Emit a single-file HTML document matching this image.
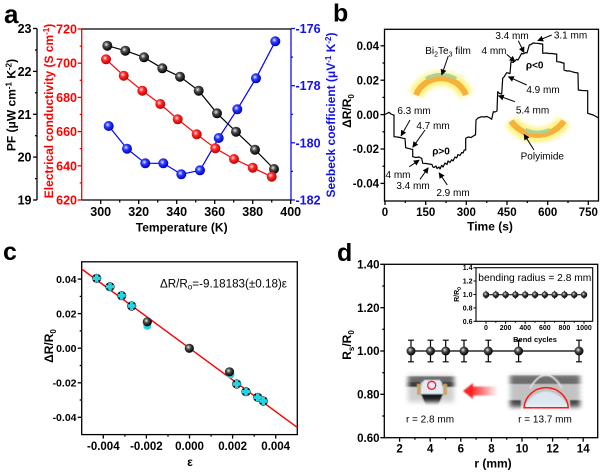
<!DOCTYPE html>
<html><head><meta charset="utf-8"><style>html,body{margin:0;padding:0;background:#fff}svg{display:block}</style></head>
<body>
<svg width="600" height="472" viewBox="0 0 600 472" xmlns="http://www.w3.org/2000/svg" font-family="'Liberation Sans', Arial, sans-serif">
<defs>
<radialGradient id="gk" cx="0.4" cy="0.38" r="0.62"><stop offset="0" stop-color="#eeeeee"/><stop offset="0.4" stop-color="#4a4a4a"/><stop offset="1" stop-color="#000"/></radialGradient>
<radialGradient id="gr" cx="0.4" cy="0.38" r="0.62"><stop offset="0" stop-color="#ffe4e4"/><stop offset="0.4" stop-color="#ff2a2a"/><stop offset="1" stop-color="#c00000"/></radialGradient>
<radialGradient id="gb" cx="0.4" cy="0.38" r="0.62"><stop offset="0" stop-color="#e4e8ff"/><stop offset="0.4" stop-color="#2a3aff"/><stop offset="1" stop-color="#0000b8"/></radialGradient>
<marker id="ah" markerWidth="6" markerHeight="6" refX="5.5" refY="3" orient="auto" markerUnits="userSpaceOnUse"><path d="M0,0 L6,3 L0,6 z" fill="#000"/></marker>
<filter id="glow" x="-30%" y="-60%" width="160%" height="220%"><feGaussianBlur stdDeviation="2.2"/></filter>
<filter id="bl"><feGaussianBlur stdDeviation="0.6"/></filter>
<filter id="fb" x="-30%" y="-50%" width="160%" height="200%"><feGaussianBlur stdDeviation="2.5"/></filter>
<filter id="ab" x="-20%" y="-50%" width="140%" height="200%"><feGaussianBlur stdDeviation="0.8"/></filter>
<mask id="m1" maskUnits="userSpaceOnUse" x="395" y="362" width="72" height="52"><rect x="408" y="374" width="46" height="28" fill="#fff" filter="url(#fb)"/></mask>
<mask id="m2" maskUnits="userSpaceOnUse" x="497" y="362" width="96" height="57"><rect x="510" y="374" width="70" height="33" fill="#fff" filter="url(#fb)"/></mask>
<linearGradient id="ra" x1="0" x2="1" y1="0" y2="0"><stop offset="0" stop-color="#ff2020" stop-opacity="1"/><stop offset="1" stop-color="#ff2020" stop-opacity="0"/></linearGradient>
</defs>
<rect width="600" height="472" fill="#fff"/>

<!-- ================= PANEL A ================= -->
<text x="4" y="23" font-size="26" font-weight="bold">a</text>
<g stroke="#000" stroke-width="1.3">
<line x1="37" y1="28.5" x2="37" y2="200"/>
<line x1="33" y1="28.5" x2="37" y2="28.5"/><line x1="33" y1="71.4" x2="37" y2="71.4"/><line x1="33" y1="114.3" x2="37" y2="114.3"/><line x1="33" y1="157.1" x2="37" y2="157.1"/><line x1="33" y1="200" x2="37" y2="200"/>
<line x1="35" y1="50" x2="37" y2="50"/><line x1="35" y1="92.8" x2="37" y2="92.8"/><line x1="35" y1="135.7" x2="37" y2="135.7"/><line x1="35" y1="178.6" x2="37" y2="178.6"/>
</g>
<g font-size="12.5" font-weight="bold" text-anchor="end">
<text x="31.5" y="33">23</text><text x="31.5" y="75.9">22</text><text x="31.5" y="118.8">21</text><text x="31.5" y="161.6">20</text><text x="31.5" y="204.5">19</text>
</g>
<text transform="translate(15.5,105) rotate(-90)" text-anchor="middle" font-size="12" font-weight="bold">PF (μW cm<tspan dy="-4" font-size="8">-1</tspan><tspan dy="4"> K</tspan><tspan dy="-4" font-size="8">-2</tspan><tspan dy="4">)</tspan></text>
<g stroke="#f00" stroke-width="1.3">
<line x1="81.7" y1="29" x2="81.7" y2="200"/>
<line x1="77.7" y1="29" x2="81.7" y2="29"/><line x1="77.7" y1="63.2" x2="81.7" y2="63.2"/><line x1="77.7" y1="97.4" x2="81.7" y2="97.4"/><line x1="77.7" y1="131.6" x2="81.7" y2="131.6"/><line x1="77.7" y1="165.8" x2="81.7" y2="165.8"/><line x1="77.7" y1="200" x2="81.7" y2="200"/>
<line x1="79.7" y1="46.1" x2="81.7" y2="46.1"/><line x1="79.7" y1="80.3" x2="81.7" y2="80.3"/><line x1="79.7" y1="114.5" x2="81.7" y2="114.5"/><line x1="79.7" y1="148.7" x2="81.7" y2="148.7"/><line x1="79.7" y1="182.9" x2="81.7" y2="182.9"/>
</g>
<g font-size="12.5" font-weight="bold" text-anchor="end" fill="#f00">
<text x="77" y="33.5">720</text><text x="77" y="67.7">700</text><text x="77" y="101.9">680</text><text x="77" y="136.1">660</text><text x="77" y="170.3">640</text><text x="77" y="204.5">620</text>
</g>
<text transform="translate(53,111) rotate(-90)" text-anchor="middle" font-size="12" font-weight="bold" fill="#f00">Electrical conductivity (S cm<tspan dy="-4" font-size="8">-1</tspan><tspan dy="4">)</tspan></text>
<g stroke="#1010f0" stroke-width="1.3">
<line x1="291" y1="28.5" x2="291" y2="200"/>
<line x1="291" y1="28.5" x2="295" y2="28.5"/><line x1="291" y1="85.7" x2="295" y2="85.7"/><line x1="291" y1="142.8" x2="295" y2="142.8"/><line x1="291" y1="200" x2="295" y2="200"/>
<line x1="291" y1="57.1" x2="293" y2="57.1"/><line x1="291" y1="114.3" x2="293" y2="114.3"/><line x1="291" y1="171.4" x2="293" y2="171.4"/>
</g>
<g font-size="12.5" font-weight="bold" fill="#1010f0">
<text x="295.5" y="33">-176</text><text x="295.5" y="90.2">-178</text><text x="295.5" y="147.3">-180</text><text x="295.5" y="204.5">-182</text>
</g>
<text transform="translate(335,115) rotate(-90)" text-anchor="middle" font-size="12" font-weight="bold" fill="#1010f0">Seebeck coefficient (μV<tspan dy="-4" font-size="8">-1</tspan><tspan dy="4"> K</tspan><tspan dy="-4" font-size="8">-2</tspan><tspan dy="4">)</tspan></text>
<g stroke="#000" stroke-width="1.3">
<line x1="81.7" y1="200" x2="291" y2="200"/>
<line x1="81.7" y1="29" x2="291" y2="29"/>
<line x1="100.7" y1="200" x2="100.7" y2="204"/><line x1="138.7" y1="200" x2="138.7" y2="204"/><line x1="176.7" y1="200" x2="176.7" y2="204"/><line x1="214.7" y1="200" x2="214.7" y2="204"/><line x1="252.7" y1="200" x2="252.7" y2="204"/><line x1="290.7" y1="200" x2="290.7" y2="204"/>
<line x1="119.7" y1="200" x2="119.7" y2="202.5"/><line x1="157.7" y1="200" x2="157.7" y2="202.5"/><line x1="195.7" y1="200" x2="195.7" y2="202.5"/><line x1="233.7" y1="200" x2="233.7" y2="202.5"/><line x1="271.7" y1="200" x2="271.7" y2="202.5"/>
</g>
<g font-size="12.5" font-weight="bold" text-anchor="middle">
<text x="100.7" y="216">300</text><text x="138.7" y="216">320</text><text x="176.7" y="216">340</text><text x="214.7" y="216">360</text><text x="252.7" y="216">380</text><text x="290.7" y="216">400</text>
</g>
<text x="181.7" y="231.5" text-anchor="middle" font-size="12" font-weight="bold">Temperature (K)</text>
<polyline fill="none" stroke="#000" stroke-width="1.2" points="107.3,45.7 125.3,50.7 144,57.3 162.3,68.3 180,76.7 198.7,90.7 217,113.3 236,131.7 255,149.7 274,169"/>
<polyline fill="none" stroke="#f00" stroke-width="1.2" points="106,59.3 123.7,75.7 142.3,90.7 160.3,104 177.7,119.3 196.7,134.3 215.3,148.3 234,159 252.7,167.7 271.7,176.7"/>
<polyline fill="none" stroke="#0000ff" stroke-width="1.2" points="108.7,126 127,148.7 145.3,163.3 163.3,163.3 181.3,174.3 200,170.3 218.7,138 237.3,109.3 256,78.3 275.3,41.3"/>
<g fill="url(#gk)">
<circle cx="107.3" cy="45.7" r="5"/><circle cx="125.3" cy="50.7" r="5"/><circle cx="144" cy="57.3" r="5"/><circle cx="162.3" cy="68.3" r="5"/><circle cx="180" cy="76.7" r="5"/><circle cx="198.7" cy="90.7" r="5"/><circle cx="217" cy="113.3" r="5"/><circle cx="236" cy="131.7" r="5"/><circle cx="255" cy="149.7" r="5"/><circle cx="274" cy="169" r="5"/>
</g>
<g fill="url(#gr)">
<circle cx="106" cy="59.3" r="5"/><circle cx="123.7" cy="75.7" r="5"/><circle cx="142.3" cy="90.7" r="5"/><circle cx="160.3" cy="104" r="5"/><circle cx="177.7" cy="119.3" r="5"/><circle cx="196.7" cy="134.3" r="5"/><circle cx="215.3" cy="148.3" r="5"/><circle cx="234" cy="159" r="5"/><circle cx="252.7" cy="167.7" r="5"/><circle cx="271.7" cy="176.7" r="5"/>
</g>
<g fill="url(#gb)">
<circle cx="108.7" cy="126" r="5"/><circle cx="127" cy="148.7" r="5"/><circle cx="145.3" cy="163.3" r="5"/><circle cx="163.3" cy="163.3" r="5"/><circle cx="181.3" cy="174.3" r="5"/><circle cx="200" cy="170.3" r="5"/><circle cx="218.7" cy="138" r="5"/><circle cx="237.3" cy="109.3" r="5"/><circle cx="256" cy="78.3" r="5"/><circle cx="275.3" cy="41.3" r="5"/>
</g>

<!-- ================= PANEL B ================= -->
<text x="333" y="21.5" font-size="25" font-weight="bold">b</text>
<rect x="384.5" y="29.3" width="214" height="171.7" fill="none" stroke="#000" stroke-width="1.3"/>
<g stroke="#000" stroke-width="1.3">
<line x1="380.5" y1="45.8" x2="384.5" y2="45.8"/><line x1="380.5" y1="80.2" x2="384.5" y2="80.2"/><line x1="380.5" y1="114.6" x2="384.5" y2="114.6"/><line x1="380.5" y1="149" x2="384.5" y2="149"/><line x1="380.5" y1="183.4" x2="384.5" y2="183.4"/>
<line x1="382.5" y1="63" x2="384.5" y2="63"/><line x1="382.5" y1="97.4" x2="384.5" y2="97.4"/><line x1="382.5" y1="131.8" x2="384.5" y2="131.8"/><line x1="382.5" y1="166.2" x2="384.5" y2="166.2"/>
<line x1="385" y1="201" x2="385" y2="205"/><line x1="425.7" y1="201" x2="425.7" y2="205"/><line x1="466.3" y1="201" x2="466.3" y2="205"/><line x1="507" y1="201" x2="507" y2="205"/><line x1="547.7" y1="201" x2="547.7" y2="205"/><line x1="588.3" y1="201" x2="588.3" y2="205"/>
<line x1="405.3" y1="201" x2="405.3" y2="203"/><line x1="446" y1="201" x2="446" y2="203"/><line x1="486.7" y1="201" x2="486.7" y2="203"/><line x1="527.3" y1="201" x2="527.3" y2="203"/><line x1="568" y1="201" x2="568" y2="203"/>
</g>
<g font-size="11.5" font-weight="bold" text-anchor="end">
<text x="379" y="50">0.04</text><text x="379" y="84.4">0.02</text><text x="379" y="118.8">0.00</text><text x="379" y="153.2">-0.02</text><text x="379" y="187.6">-0.04</text>
</g>
<g font-size="11.5" font-weight="bold" text-anchor="middle">
<text x="385" y="216">0</text><text x="425.7" y="216">150</text><text x="466.3" y="216">300</text><text x="507" y="216">450</text><text x="547.7" y="216">600</text><text x="588.3" y="216">750</text>
</g>
<text x="490" y="230.5" text-anchor="middle" font-size="12" font-weight="bold">Time (s)</text>
<text transform="translate(351,111) rotate(-90)" text-anchor="middle" font-size="12" font-weight="bold">ΔR/R<tspan dy="3" font-size="8">0</tspan></text>
<path d="M416,95 A27,27 0 0,1 466,95" fill="none" stroke="#fff27a" stroke-width="15" filter="url(#glow)" opacity="0.9"/>
<path d="M416,95 A27,27 0 0,1 466,95" fill="none" stroke="#f6b13a" stroke-width="6"/>
<path d="M425.8,78.6 A30.5,30.5 0 0,1 456.3,78.6" fill="none" stroke="#a8d3a0" stroke-width="3.2"/>
<path d="M511,121 A32.1,32.1 0 0,0 564,121" fill="none" stroke="#fff27a" stroke-width="15" filter="url(#glow)" opacity="0.9"/>
<path d="M511,121 A32.1,32.1 0 0,0 564,121" fill="none" stroke="#f6b13a" stroke-width="6"/>
<path d="M525.3,129.5 A28.5,28.5 0 0,0 549.7,129.5" fill="none" stroke="#a8d3a0" stroke-width="3.2"/>
<path fill="none" stroke="#000" stroke-width="1.2" stroke-linejoin="round" d="M385,114.3 L387,113.5 L389,112.3 L391,114 L393.3,115 L394,115 L394,136.7 L397,137 L400,137.5 L403.3,138.3 L405,138.5 L405.7,147.7 L408,148.3 L411.7,149.3 L412.7,149.3 L412.7,156.7 L416,157.5 L419,157 L421.7,158.3 L422.7,163.3 L426,163.5 L429,164 L432,164.5 L432.7,166.7 L434,167.5 L436,166 L437,168.5 L439,167 L440,169 L441.7,165.3 L443,167 L445,163 L447,164.5 L448,161 L450,162.5 L451.7,159.7 L453,161 L455,157 L456.7,158 L458,154.5 L460,155.5 L461.7,152.5 L463,153 L464.3,150 L465.7,150 L465.7,138.3 L468,137 L471,137.5 L475,135 L475.5,135 L476,120 L478,118 L481.7,116.7 L484,117 L487,116.5 L490,118 L491.7,119.3 L493.3,111.7 L495,112 L497,111 L497.7,91.7 L499.5,93.5 L501.7,94 L502.7,78.3 L504,77 L506.7,72.7 L508,73 L510,73.5 L511,61.7 L513,62.5 L516.7,59.3 L518,60 L521.7,53.3 L523,54 L526,52.5 L527,53 L529.3,45 L531,44.5 L533,43 L536.7,43.3 L539,43.5 L541.5,44 L542.7,44 L542.7,53.3 L546,53 L549,53.5 L552,53.5 L555,54 L556.7,54 L556.7,61.7 L560,62 L563,63 L564,63 L564,70 L567,71 L570,71 L571.7,71.7 L575,72.5 L578,73 L578.3,90 L582,90.5 L586.7,90.7 L587.7,90.7 L587.7,113.3 L590,114 L593.3,115 L596,116.5 L598.5,118"/>
<g stroke="#000" stroke-width="1" marker-end="url(#ah)">
<line x1="410" y1="120" x2="401" y2="136"/>
<line x1="425" y1="130" x2="412.7" y2="147.3"/>
<line x1="409.3" y1="166.7" x2="419.3" y2="160"/>
<line x1="420" y1="179.3" x2="428.3" y2="167.7"/>
<line x1="447.3" y1="185" x2="439" y2="172.7"/>
<line x1="448.3" y1="56" x2="441.7" y2="75"/>
<line x1="518.3" y1="40.7" x2="524" y2="52.7"/>
<line x1="551.7" y1="35" x2="537.7" y2="40.7"/>
<line x1="506.7" y1="54.3" x2="515" y2="61.7"/>
<line x1="526.7" y1="85" x2="508.3" y2="76.7"/>
<line x1="515" y1="101.7" x2="498.3" y2="95.7"/>
<line x1="534" y1="150" x2="524" y2="134.3"/>
</g>
<g font-size="10" text-anchor="middle">
<text x="448" y="54.2">Bi<tspan dy="2.5" font-size="7">2</tspan><tspan dy="-2.5">Te</tspan><tspan dy="2.5" font-size="7">3</tspan><tspan dy="-2.5"> film</tspan></text>
<text x="512" y="39.2">3.4 mm</text>
<text x="570.5" y="38.5">3.1 mm</text>
<text x="494" y="54.2">4 mm</text>
<text x="543" y="92.8">4.9 mm</text>
<text x="532.5" y="113.5">5.4 mm</text>
<text x="542.3" y="159.5">Polyimide</text>
<text x="414" y="114.2">6.3 mm</text>
<text x="433" y="129.2">4.7 mm</text>
<text x="398" y="177.8">4 mm</text>
<text x="413" y="189.2">3.4 mm</text>
<text x="453" y="196.2">2.9 mm</text>
<text x="534.7" y="68.5" font-weight="bold">ρ&lt;0</text>
<text x="441" y="154.5" font-weight="bold">ρ&gt;0</text>
</g>

<!-- ================= PANEL C ================= -->
<text x="3" y="260" font-size="25" font-weight="bold">c</text>
<rect x="81.7" y="261.8" width="215.6" height="172.8" fill="none" stroke="#000" stroke-width="1.3"/>
<g stroke="#000" stroke-width="1.3">
<line x1="77.7" y1="279.1" x2="81.7" y2="279.1"/><line x1="77.7" y1="313.6" x2="81.7" y2="313.6"/><line x1="77.7" y1="348.2" x2="81.7" y2="348.2"/><line x1="77.7" y1="382.8" x2="81.7" y2="382.8"/><line x1="77.7" y1="417.3" x2="81.7" y2="417.3"/>
<line x1="79.7" y1="296.4" x2="81.7" y2="296.4"/><line x1="79.7" y1="330.9" x2="81.7" y2="330.9"/><line x1="79.7" y1="365.5" x2="81.7" y2="365.5"/><line x1="79.7" y1="400" x2="81.7" y2="400"/>
<line x1="103.3" y1="434.6" x2="103.3" y2="438.6"/><line x1="146.4" y1="434.6" x2="146.4" y2="438.6"/><line x1="189.5" y1="434.6" x2="189.5" y2="438.6"/><line x1="232.6" y1="434.6" x2="232.6" y2="438.6"/><line x1="275.7" y1="434.6" x2="275.7" y2="438.6"/>
<line x1="124.9" y1="434.6" x2="124.9" y2="436.6"/><line x1="168" y1="434.6" x2="168" y2="436.6"/><line x1="211.1" y1="434.6" x2="211.1" y2="436.6"/><line x1="254.2" y1="434.6" x2="254.2" y2="436.6"/>
</g>
<g font-size="10.5" font-weight="bold" text-anchor="end">
<text x="76.5" y="283">0.04</text><text x="76.5" y="317.5">0.02</text><text x="76.5" y="352">0.00</text><text x="76.5" y="386.6">-0.02</text><text x="76.5" y="421.1">-0.04</text>
</g>
<g font-size="11.5" font-weight="bold" text-anchor="middle">
<text x="103.3" y="450">-0.004</text><text x="146.4" y="450">-0.002</text><text x="189.5" y="450">0.000</text><text x="232.6" y="450">0.002</text><text x="275.7" y="450">0.004</text>
</g>
<text x="190" y="466" text-anchor="middle" font-size="12" font-weight="bold">ε</text>
<text transform="translate(53,346) rotate(-90)" text-anchor="middle" font-size="12" font-weight="bold">ΔR/R<tspan dy="3" font-size="8">0</tspan></text>
<line x1="81.7" y1="269" x2="297.3" y2="427.4" stroke="#f00" stroke-width="1.4"/>
<text x="160" y="287.3" font-size="11.5" textLength="127" lengthAdjust="spacingAndGlyphs">ΔR/R<tspan font-size="8" dy="2">o</tspan><tspan dy="-2">=-9.18183(±0.18)ε</tspan></text>
<g>
<circle cx="147.3" cy="325.8" r="4" fill="#27d3e3"/>
<circle cx="230.5" cy="374.5" r="4" fill="#27d3e3"/>
</g>
<g fill="#111">
<circle cx="96.7" cy="278.3" r="4.6"/><circle cx="110" cy="286.7" r="4.6"/><circle cx="121.7" cy="295.7" r="4.6"/><circle cx="131.7" cy="306" r="4.6"/><circle cx="236.7" cy="384" r="4.6"/><circle cx="246" cy="391.7" r="4.6"/><circle cx="257.7" cy="397.3" r="4.6"/><circle cx="263.3" cy="401" r="4.6"/>
</g>
<circle cx="147.3" cy="321.8" r="4.6" fill="url(#gk)"/>
<circle cx="189.3" cy="348.3" r="4.6" fill="url(#gk)"/>
<circle cx="229.5" cy="371.8" r="4.6" fill="url(#gk)"/>
<g stroke="#27d3e3" stroke-width="3.4">
<path d="M96.7,274.3 v8 M92.7,278.3 h8"/>
<path d="M110,282.7 v8 M106,286.7 h8"/>
<path d="M121.7,291.7 v8 M117.7,295.7 h8"/>
<path d="M131.7,302 v8 M127.7,306 h8"/>
<path d="M236.7,380 v8 M232.7,384 h8"/>
<path d="M246,387.7 v8 M242,391.7 h8"/>
<path d="M257.7,393.3 v8 M253.7,397.3 h8"/>
<path d="M263.3,397 v8 M259.3,401 h8"/>
</g>
<g fill="#27d3e3">
<circle cx="96.7" cy="278.3" r="2.6"/><circle cx="110" cy="286.7" r="2.6"/><circle cx="121.7" cy="295.7" r="2.6"/><circle cx="131.7" cy="306" r="2.6"/><circle cx="236.7" cy="384" r="2.6"/><circle cx="246" cy="391.7" r="2.6"/><circle cx="257.7" cy="397.3" r="2.6"/><circle cx="263.3" cy="401" r="2.6"/>
</g>

<!-- ================= PANEL D ================= -->
<text x="337" y="261" font-size="25" font-weight="bold">d</text>
<rect x="384.3" y="264.3" width="213.4" height="173.4" fill="none" stroke="#000" stroke-width="1.3"/>
<g stroke="#000" stroke-width="1.3">
<line x1="380.3" y1="264.3" x2="384.3" y2="264.3"/><line x1="380.3" y1="307.7" x2="384.3" y2="307.7"/><line x1="380.3" y1="351" x2="384.3" y2="351"/><line x1="380.3" y1="394.3" x2="384.3" y2="394.3"/><line x1="380.3" y1="437.7" x2="384.3" y2="437.7"/>
<line x1="382.3" y1="286" x2="384.3" y2="286"/><line x1="382.3" y1="329.3" x2="384.3" y2="329.3"/><line x1="382.3" y1="372.7" x2="384.3" y2="372.7"/><line x1="382.3" y1="416" x2="384.3" y2="416"/>
<line x1="399.6" y1="437.7" x2="399.6" y2="441.7"/><line x1="430.2" y1="437.7" x2="430.2" y2="441.7"/><line x1="460.8" y1="437.7" x2="460.8" y2="441.7"/><line x1="491.4" y1="437.7" x2="491.4" y2="441.7"/><line x1="522" y1="437.7" x2="522" y2="441.7"/><line x1="552.6" y1="437.7" x2="552.6" y2="441.7"/><line x1="583.2" y1="437.7" x2="583.2" y2="441.7"/>
<line x1="414.9" y1="437.7" x2="414.9" y2="439.7"/><line x1="445.5" y1="437.7" x2="445.5" y2="439.7"/><line x1="476.1" y1="437.7" x2="476.1" y2="439.7"/><line x1="506.7" y1="437.7" x2="506.7" y2="439.7"/><line x1="537.3" y1="437.7" x2="537.3" y2="439.7"/><line x1="567.9" y1="437.7" x2="567.9" y2="439.7"/>
</g>
<g font-size="11.5" font-weight="bold" text-anchor="end">
<text x="379.5" y="268.5">1.40</text><text x="379.5" y="311.9">1.20</text><text x="379.5" y="355.2">1.00</text><text x="379.5" y="398.5">0.80</text><text x="379.5" y="441.9">0.60</text>
</g>
<g font-size="11.5" font-weight="bold" text-anchor="middle">
<text x="399.6" y="452.5">2</text><text x="430.2" y="452.5">4</text><text x="460.8" y="452.5">6</text><text x="491.4" y="452.5">8</text><text x="522" y="452.5">10</text><text x="552.6" y="452.5">12</text><text x="583.2" y="452.5">14</text>
</g>
<text x="493" y="467.5" text-anchor="middle" font-size="12" font-weight="bold">r (mm)</text>
<text transform="translate(351,345) rotate(-90)" text-anchor="middle" font-size="12" font-weight="bold">R<tspan dy="3" font-size="8">s</tspan><tspan dy="-3">/R</tspan><tspan dy="3" font-size="8">0</tspan></text>
<line x1="411" y1="351" x2="579" y2="351" stroke="#000" stroke-width="1.2"/>
<g stroke="#000" stroke-width="1.2">
<path d="M411,340.2 V361.8 M408,340.2 h6 M408,361.8 h6"/>
<path d="M430.5,340.2 V361.8 M427.5,340.2 h6 M427.5,361.8 h6"/>
<path d="M445.7,340.2 V361.8 M442.7,340.2 h6 M442.7,361.8 h6"/>
<path d="M464,340.2 V361.8 M461,340.2 h6 M461,361.8 h6"/>
<path d="M488.3,340.2 V361.8 M485.3,340.2 h6 M485.3,361.8 h6"/>
<path d="M518.6,340.2 V361.8 M515.6,340.2 h6 M515.6,361.8 h6"/>
<path d="M579,340.2 V361.8 M576,340.2 h6 M576,361.8 h6"/>
</g>
<g fill="url(#gk)">
<circle cx="411" cy="351" r="4.5"/><circle cx="430.5" cy="351" r="4.5"/><circle cx="445.7" cy="351" r="4.5"/><circle cx="464" cy="351" r="4.5"/><circle cx="488.3" cy="351" r="4.5"/><circle cx="518.6" cy="351" r="4.5"/><circle cx="579" cy="351" r="4.5"/>
</g>
<rect x="476" y="267.7" width="116.7" height="53.6" fill="#fff" stroke="#000" stroke-width="1.1"/>
<g stroke="#000" stroke-width="1">
<line x1="473.5" y1="267.7" x2="476" y2="267.7"/><line x1="473.5" y1="281" x2="476" y2="281"/><line x1="473.5" y1="294.5" x2="476" y2="294.5"/><line x1="473.5" y1="307.9" x2="476" y2="307.9"/><line x1="473.5" y1="321.3" x2="476" y2="321.3"/>
<line x1="486" y1="321.3" x2="486" y2="323.8"/><line x1="505.6" y1="321.3" x2="505.6" y2="323.8"/><line x1="525.2" y1="321.3" x2="525.2" y2="323.8"/><line x1="544.8" y1="321.3" x2="544.8" y2="323.8"/><line x1="564.4" y1="321.3" x2="564.4" y2="323.8"/><line x1="584" y1="321.3" x2="584" y2="323.8"/>
<line x1="495.8" y1="321.3" x2="495.8" y2="322.8"/><line x1="515.4" y1="321.3" x2="515.4" y2="322.8"/><line x1="535" y1="321.3" x2="535" y2="322.8"/><line x1="554.6" y1="321.3" x2="554.6" y2="322.8"/><line x1="574.2" y1="321.3" x2="574.2" y2="322.8"/>
</g>
<g font-size="7" font-weight="bold" text-anchor="end">
<text x="472.5" y="270.2">1.4</text><text x="472.5" y="283.5">1.2</text><text x="472.5" y="297">1.0</text><text x="472.5" y="310.4">0.8</text><text x="472.5" y="323.8">0.6</text>
</g>
<g font-size="7" font-weight="bold" text-anchor="middle">
<text x="486" y="330">0</text><text x="505.6" y="330">200</text><text x="525.2" y="330">400</text><text x="544.8" y="330">600</text><text x="564.4" y="330">800</text><text x="584" y="330">1000</text>
</g>
<text x="535" y="342" text-anchor="middle" font-size="7.5" font-weight="bold">Bend cycles</text>
<text transform="translate(459,294.5) rotate(-90)" text-anchor="middle" font-size="7" font-weight="bold">R/R<tspan dy="2" font-size="5">0</tspan></text>
<text x="478.3" y="281" font-size="10.5" textLength="113" lengthAdjust="spacingAndGlyphs">bending radius = 2.8 mm</text>
<line x1="486" y1="294.7" x2="584" y2="294.7" stroke="#000" stroke-width="1"/>
<g stroke="#000" stroke-width="0.9">
<path d="M486,290.7 v8 M495.8,290.7 v8 M505.6,290.7 v8 M515.4,290.7 v8 M525.2,290.7 v8 M535,290.7 v8 M544.8,290.7 v8 M554.6,290.7 v8 M564.4,290.7 v8 M574.2,290.7 v8 M584,290.7 v8"/>
</g>
<g fill="url(#gk)">
<circle cx="486" cy="294.7" r="3.2"/><circle cx="495.8" cy="294.7" r="3.2"/><circle cx="505.6" cy="294.7" r="3.2"/><circle cx="515.4" cy="294.7" r="3.2"/><circle cx="525.2" cy="294.7" r="3.2"/><circle cx="535" cy="294.7" r="3.2"/><circle cx="544.8" cy="294.7" r="3.2"/><circle cx="554.6" cy="294.7" r="3.2"/><circle cx="564.4" cy="294.7" r="3.2"/><circle cx="574.2" cy="294.7" r="3.2"/><circle cx="584" cy="294.7" r="3.2"/>
</g>
<g mask="url(#m1)"><g filter="url(#bl)">
<rect x="400" y="368" width="62" height="40" fill="#cfcfcf"/>
<rect x="400" y="368" width="62" height="8" fill="#e6e6e6"/>
<rect x="400" y="376" width="62" height="6" fill="#6a6a6a"/>
<rect x="400" y="382" width="21" height="5" fill="#3c3c3c"/>
<rect x="442" y="382" width="20" height="5" fill="#3c3c3c"/>
<polygon points="424,380 440,380 446,394 419,394" fill="#e2ecf7"/>
<polygon points="421,394 443,394 438,406 426,406" fill="#1c1c1c"/>
<rect x="417" y="384" width="4" height="11" fill="#c9a468"/>
<rect x="443" y="384" width="4" height="11" fill="#c9a468"/>
</g></g>
<circle cx="431.7" cy="385.3" r="4" fill="none" stroke="#ff1a1a" stroke-width="1.3"/>
<g mask="url(#m2)"><g filter="url(#bl)">
<rect x="500" y="368" width="90" height="45" fill="#c2c2c2"/>
<rect x="500" y="368" width="90" height="7" fill="#dedede"/>
<rect x="500" y="375" width="90" height="9" fill="#6e6e6e"/>
<path d="M530,388 Q546,362 562,388" fill="none" stroke="#e2e2e2" stroke-width="1.6"/>
<path d="M523,407 Q546,376 570,407 Z" fill="#dce7f2"/>
<rect x="500" y="400" width="21" height="12" fill="#4a4a4a"/>
<rect x="570" y="400" width="20" height="12" fill="#4a4a4a"/>
</g></g>
<path d="M524,407.7 A22.2,21.5 0 0,1 568.3,407.7 Z" fill="none" stroke="#ff1a1a" stroke-width="1.5"/>
<g filter="url(#ab)">
<rect x="471" y="386.5" width="27" height="9" fill="url(#ra)"/>
<polygon points="463,391 473,383 473,399" fill="#ff2020"/>
</g>
<text x="430" y="422.5" text-anchor="middle" font-size="10">r = 2.8 mm</text>
<text x="545" y="422.5" text-anchor="middle" font-size="10">r = 13.7 mm</text>
</svg>
</body></html>
